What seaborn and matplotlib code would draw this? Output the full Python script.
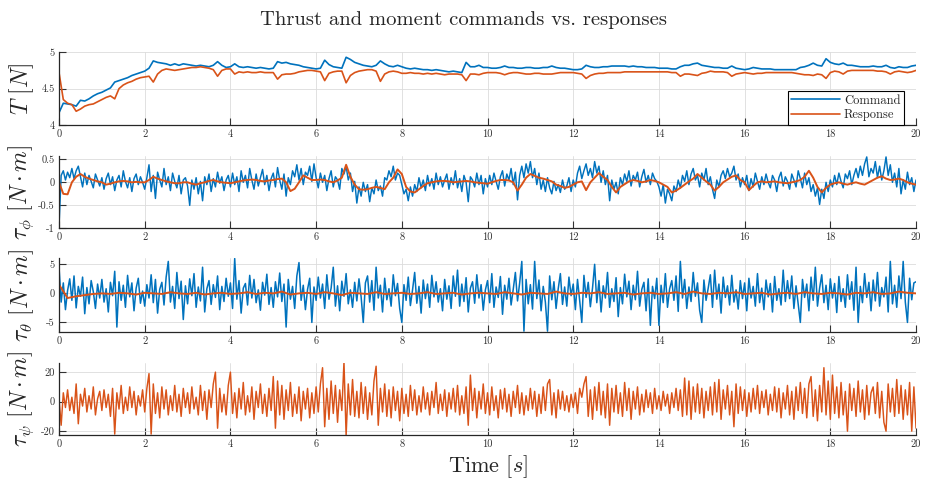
import numpy as np
import pandas as pd
import matplotlib
matplotlib.use("Agg")
import matplotlib.pyplot as plt
import seaborn as sns

# ---------------- data ----------------
title = "Thrust and moment commands vs. responses"
x_label = "Time $[s]$"
y_labels = [r"$T\ [N]$", r"$\tau_\phi\ [N\cdot m]$",
            r"$\tau_\theta\ [N\cdot m]$", r"$\tau_\psi\ [N\cdot m]$"]
series_names = ["Command", "Response"]
x_ticks = [0, 2, 4, 6, 8, 10, 12, 14, 16, 18, 20]
y_ticks = [[4, 4.5, 5], [-1, -0.5, 0, 0.5], [-5, 0, 5], [-20, 0, 20]]
y_tick_labels = [["4", "4.5", "5"], ["-1", "-0.5", "0", "0.5"],
                 ["-5", "0", "5"], ["-20", "0", "20"]]

# Thrust command / response, sampled every 0.1 s
thrust_cmd = [
    4.17, 4.30, 4.29, 4.28, 4.26, 4.34, 4.33, 4.36, 4.40, 4.43,
    4.45, 4.48, 4.51, 4.59, 4.61, 4.63, 4.65, 4.68, 4.70, 4.72,
    4.74, 4.78, 4.88, 4.86, 4.85, 4.84, 4.82, 4.84, 4.82, 4.84,
    4.83, 4.82, 4.81, 4.82, 4.81, 4.80, 4.82, 4.87, 4.82, 4.79,
    4.80, 4.84, 4.80, 4.79, 4.80, 4.79, 4.78, 4.79, 4.78, 4.77,
    4.78, 4.87, 4.85, 4.86, 4.84, 4.83, 4.82, 4.80, 4.79, 4.78,
    4.77, 4.78, 4.89, 4.83, 4.80, 4.79, 4.78, 4.93, 4.90, 4.86,
    4.84, 4.82, 4.81, 4.80, 4.82, 4.88, 4.84, 4.81, 4.80, 4.82,
    4.80, 4.78, 4.77, 4.78, 4.77, 4.76, 4.76, 4.75, 4.76, 4.75,
    4.74, 4.73, 4.74, 4.73, 4.72, 4.86, 4.80, 4.80, 4.82, 4.79,
    4.79, 4.78, 4.78, 4.79, 4.81, 4.79, 4.79, 4.78, 4.78, 4.79,
    4.79, 4.78, 4.78, 4.79, 4.79, 4.81, 4.79, 4.78, 4.78, 4.77,
    4.76, 4.76, 4.77, 4.82, 4.80, 4.79, 4.79, 4.80, 4.80, 4.81,
    4.81, 4.81, 4.81, 4.80, 4.81, 4.80, 4.80, 4.79, 4.79, 4.79,
    4.78, 4.78, 4.78, 4.77, 4.77, 4.80, 4.82, 4.82, 4.84, 4.85,
    4.82, 4.81, 4.80, 4.79, 4.79, 4.78, 4.78, 4.81, 4.78, 4.77,
    4.76, 4.77, 4.79, 4.78, 4.77, 4.77, 4.77, 4.76, 4.76, 4.76,
    4.76, 4.76, 4.76, 4.79, 4.80, 4.82, 4.85, 4.82, 4.81, 4.91,
    4.86, 4.84, 4.83, 4.85, 4.82, 4.82, 4.81, 4.80, 4.80, 4.80,
    4.81, 4.80, 4.80, 4.82, 4.79, 4.78, 4.80, 4.79, 4.79, 4.81,
    4.82]
thrust_resp = [
    4.72, 4.35, 4.30, 4.28, 4.19, 4.22, 4.26, 4.28, 4.29, 4.32,
    4.35, 4.38, 4.40, 4.36, 4.50, 4.55, 4.58, 4.60, 4.63, 4.65,
    4.66, 4.67, 4.59, 4.70, 4.75, 4.77, 4.76, 4.75, 4.76, 4.77,
    4.78, 4.79, 4.79, 4.80, 4.79, 4.78, 4.76, 4.67, 4.75, 4.77,
    4.77, 4.70, 4.73, 4.72, 4.73, 4.72, 4.72, 4.73, 4.72, 4.72,
    4.72, 4.63, 4.69, 4.70, 4.70, 4.71, 4.73, 4.74, 4.75, 4.75,
    4.74, 4.73, 4.61, 4.71, 4.73, 4.74, 4.74, 4.58, 4.68, 4.72,
    4.74, 4.75, 4.76, 4.76, 4.74, 4.60, 4.70, 4.73, 4.74, 4.73,
    4.71, 4.71, 4.72, 4.71, 4.71, 4.70, 4.71, 4.70, 4.71, 4.70,
    4.69, 4.70, 4.70, 4.70, 4.69, 4.61, 4.70, 4.70, 4.69, 4.71,
    4.72, 4.72, 4.72, 4.71, 4.69, 4.71, 4.72, 4.72, 4.71, 4.70,
    4.70, 4.71, 4.71, 4.70, 4.70, 4.70, 4.71, 4.72, 4.72, 4.72,
    4.72, 4.71, 4.70, 4.64, 4.68, 4.70, 4.71, 4.71, 4.72, 4.72,
    4.72, 4.72, 4.73, 4.73, 4.73, 4.73, 4.73, 4.73, 4.73, 4.73,
    4.73, 4.73, 4.73, 4.72, 4.72, 4.67, 4.70, 4.70, 4.69, 4.68,
    4.71, 4.72, 4.74, 4.73, 4.73, 4.73, 4.72, 4.67, 4.70, 4.71,
    4.72, 4.71, 4.70, 4.71, 4.71, 4.72, 4.72, 4.72, 4.72, 4.72,
    4.72, 4.72, 4.71, 4.70, 4.69, 4.69, 4.68, 4.70, 4.69, 4.64,
    4.72, 4.74, 4.73, 4.70, 4.74, 4.75, 4.75, 4.75, 4.75, 4.75,
    4.75, 4.74, 4.74, 4.73, 4.70, 4.73, 4.74, 4.73, 4.72, 4.73,
    4.75]

# Roll moment command (every 0.05 s) and response (every 0.1 s)
tau_phi_cmd = [
    -0.95, 0.15, 0.25, 0.05, 0.22, 0.10, 0.30, 0.08, 0.25, 0.35, 0.12, -0.10, 0.20, -0.05, 0.15, 0.02, -0.12, 0.18, 0.05, -0.08,
    0.10, -0.15, 0.08, 0.20, -0.05, 0.12, -0.18, 0.05, 0.15, -0.10, 0.25, 0.02, -0.12, 0.10, -0.20, 0.08, 0.18, -0.05, 0.12, 0.00,
    -0.15, 0.10, 0.38, -0.20, 0.15, -0.35, 0.22, 0.05, -0.10, 0.30, -0.05, 0.12, -0.18, 0.20, 0.02, -0.12, 0.15, -0.25, 0.05, 0.10,
    -0.08, -0.50, 0.05, -0.15, 0.10, -0.25, 0.02, -0.40, 0.12, -0.05, 0.18, -0.20, 0.08, -0.10, 0.22, -0.02, 0.12, -0.18, 0.05, 0.15,
    -0.10, 0.20, -0.05, 0.12, -0.20, 0.25, 0.00, 0.15, -0.12, 0.30, 0.05, -0.15, 0.18, -0.08, 0.10, 0.28, -0.05, 0.15, -0.18, 0.08,
    0.20, -0.10, 0.32, 0.05, -0.15, 0.18, -0.30, 0.10, -0.05, 0.25, 0.12, 0.38, 0.05, 0.30, -0.05, 0.22, 0.15, 0.35, 0.02, 0.40,
    0.10, -0.12, 0.20, 0.00, 0.15, -0.18, 0.08, 0.25, -0.10, 0.12, 0.05, -0.15, 0.30, 0.18, 0.35, 0.05, 0.20, -0.20, 0.02, -0.45,
    -0.10, -0.30, 0.00, -0.20, -0.05, -0.42, -0.12, -0.25, 0.05, -0.18, -0.08, -0.30, 0.10, 0.05, 0.25, 0.12, 0.35, 0.05, 0.20, 0.15,
    -0.05, -0.25, -0.15, -0.40, -0.10, -0.30, -0.05, -0.20, 0.10, -0.12, 0.05, -0.18, 0.15, -0.08, 0.08, -0.15, 0.20, -0.05, 0.12, -0.10,
    0.05, 0.18, -0.15, 0.10, -0.05, 0.25, -0.12, 0.08, -0.20, 0.15, 0.00, -0.42, 0.12, 0.05, -0.10, 0.20, -0.05, 0.15, -0.25, 0.08,
    -0.10, 0.15, -0.05, 0.20, 0.02, -0.15, 0.12, 0.25, -0.08, 0.18, 0.05, 0.30, -0.05, 0.22, -0.38, 0.15, 0.35, 0.10, 0.40, 0.20,
    0.45, 0.10, 0.30, -0.05, 0.20, -0.15, 0.05, -0.20, 0.10, -0.12, -0.25, 0.02, -0.18, -0.05, -0.22, 0.05, -0.15, -0.08, 0.10, -0.20,
    0.05, -0.10, 0.20, 0.35, 0.08, 0.25, 0.40, 0.15, 0.30, 0.10, 0.45, 0.20, 0.35, 0.00, 0.25, -0.05, 0.15, -0.40, 0.05, -0.15,
    0.00, -0.25, 0.10, -0.05, 0.18, 0.02, 0.25, -0.08, 0.15, 0.05, 0.22, -0.10, 0.12, 0.28, 0.00, 0.15, -0.05, 0.20, 0.08, 0.02,
    -0.10, -0.30, -0.05, -0.45, -0.15, -0.25, -0.40, -0.08, -0.20, 0.05, -0.12, 0.15, 0.02, 0.25, -0.05, 0.18, 0.30, 0.05, 0.15, -0.10,
    0.20, 0.05, 0.30, -0.05, 0.12, -0.15, -0.35, 0.05, -0.10, 0.15, 0.25, 0.08, 0.30, 0.12, 0.20, 0.35, 0.05, 0.18, -0.10, 0.10,
    -0.05, 0.15, -0.18, 0.08, -0.10, 0.20, 0.02, -0.15, 0.12, -0.05, 0.18, 0.00, -0.12, 0.15, 0.05, -0.20, 0.10, 0.22, -0.08, 0.12,
    0.02, -0.15, 0.18, 0.05, -0.10, 0.25, 0.08, -0.12, 0.20, -0.05, 0.10, -0.20, -0.05, -0.30, -0.12, -0.48, -0.15, -0.35, 0.00, -0.20,
    0.05, -0.10, 0.15, -0.05, 0.20, 0.02, -0.12, 0.18, 0.08, 0.25, -0.05, 0.15, 0.30, 0.10, 0.35, 0.15, 0.40, 0.55, 0.12, 0.30,
    0.20, 0.45, 0.10, 0.35, 0.05, 0.25, 0.55, 0.15, 0.38, 0.00, 0.20, -0.10, 0.30, -0.25, 0.05, -0.15, 0.22, -0.05, 0.10, -0.20,
    0.05]
tau_phi_resp = [
    0.00, -0.25, -0.26, 0.00, 0.12, 0.18, 0.12, 0.08, 0.05, 0.02,
    0.00, -0.05, -0.03, 0.00, 0.02, 0.03, 0.02, 0.00, 0.01, 0.00,
    0.00, 0.05, 0.12, 0.08, 0.05, 0.02, 0.00, -0.02, -0.02, 0.00,
    0.00, -0.03, -0.05, -0.02, 0.00, 0.03, 0.05, 0.02, 0.00, -0.01,
    -0.02, 0.00, 0.02, 0.04, 0.05, 0.06, 0.05, 0.03, 0.02, 0.04,
    0.05, 0.07, 0.08, 0.00, -0.19, -0.14, 0.00, 0.15, 0.10, 0.05,
    0.05, 0.06, 0.05, 0.02, 0.00, 0.04, 0.10, 0.38, 0.12, -0.05,
    -0.15, -0.16, -0.15, -0.12, -0.10, -0.12, -0.15, 0.00, 0.10, 0.28,
    0.18, -0.10, -0.20, -0.22, -0.15, -0.08, -0.02, 0.00, 0.02, 0.03,
    0.03, 0.02, 0.00, 0.01, 0.02, 0.03, 0.02, 0.00, -0.01, -0.02,
    -0.03, 0.00, 0.03, 0.05, 0.05, 0.04, 0.00, -0.18, -0.05, 0.10,
    0.18, 0.14, 0.10, 0.08, 0.05, 0.02, -0.05, -0.08, -0.12, -0.10,
    -0.05, 0.00, 0.02, -0.17, 0.00, 0.10, 0.20, 0.12, 0.05, -0.10,
    -0.22, -0.10, -0.04, 0.02, 0.05, 0.03, 0.00, 0.02, 0.05, 0.03,
    0.00, -0.05, -0.10, -0.22, -0.18, -0.12, -0.05, 0.02, 0.08, 0.18,
    0.10, 0.02, -0.05, -0.18, -0.10, 0.00, 0.06, 0.12, 0.15, 0.05,
    0.00, -0.17, -0.08, 0.00, 0.02, 0.00, 0.01, 0.02, 0.00, -0.01,
    -0.02, 0.00, 0.02, 0.05, 0.12, 0.25, 0.10, -0.10, -0.22, -0.12,
    -0.05, -0.02, 0.00, -0.03, -0.05, -0.02, 0.00, -0.03, -0.05, 0.00,
    0.05, 0.10, 0.13, 0.08, 0.05, 0.06, 0.08, 0.05, 0.00, -0.03,
    -0.05]

# Pitch moment command (every 0.05 s) and response (every 0.2 s)
tau_theta_cmd = [
    4.50, -1.50, 1.80, -2.80, 0.50, 2.50, -1.20, 3.00, -2.50, 1.20, -0.50, 2.80, -3.50, 1.00, -1.80, 2.20, 0.30, -2.60, 1.60, -0.80,
    2.40, -1.50, 0.80, -3.20, 1.90, -0.40, 3.80, -5.80, 2.00, -1.20, 1.40, -2.40, 3.10, -0.60, 1.80, -3.00, 0.90, 2.60, -1.70, 0.40,
    -2.20, 1.50, -0.80, 3.20, -1.60, 2.40, -3.40, 0.70, 1.90, -2.00, 2.80, 5.50, -1.50, 1.20, -2.60, 3.60, -0.90, 2.10, -4.50, 1.30,
    -1.80, 2.50, -0.40, 3.40, -2.40, 1.10, -1.30, 4.50, -3.20, 0.80, 2.20, -1.90, 1.50, -0.70, 3.00, -2.80, 1.20, -1.40, 2.60, -0.50,
    1.80, -2.60, 6.00, -1.00, 2.20, -3.40, 0.90, 1.70, -2.00, 3.10, -0.80, 2.40, -1.60, 0.60, -2.90, 1.90, -0.30, 3.30, -1.90, 1.00,
    -2.40, 2.00, -0.60, 3.50, -1.40, 1.60, -5.80, 2.40, -1.00, 1.20, -2.60, 3.00, 5.30, -1.20, 1.40, -2.80, 0.70, 2.60, -5.00, 1.10,
    -1.20, 2.80, -0.80, 1.60, -2.60, 3.20, -1.00, 0.90, 4.50, -2.20, 1.30, -3.00, 2.10, -0.50, 3.40, -1.80, 0.60, -2.40, 1.90, -1.30,
    2.50, -0.60, -5.00, 1.80, 3.00, -1.50, 2.20, -2.90, 4.50, -0.80, 1.40, -3.20, 2.60, -1.10, 0.80, -2.20, 3.20, -0.40, 1.70, -2.60,
    -5.00, 1.50, -1.20, 2.80, -2.10, 0.60, 3.60, -1.70, 1.20, -3.40, 2.30, -0.90, 1.60, -2.40, 3.10, -0.60, 2.00, -1.50, 0.80, -3.00,
    2.40, -1.00, 1.30, -2.60, 3.00, -0.50, 4.00, -2.20, 1.60, -1.40, 2.70, -3.20, 0.90, 2.00, -1.70, 3.20, -0.80, 1.50, -2.90, 0.60,
    2.20, -1.60, 3.40, -2.40, 1.10, -0.70, 2.90, -3.60, 1.40, -1.00, 2.60, -2.00, 0.70, 3.60, -1.30, 1.80, 5.50, -6.50, 2.40, -1.80,
    1.50, -2.70, 5.50, -0.90, 2.30, -3.00, 1.20, -1.50, -6.50, 3.00, -1.10, 2.00, -2.60, 0.80, 3.40, -1.90, 1.10, -2.20, 2.80, -0.40,
    1.60, -2.80, 2.40, -1.20, -5.00, 3.10, -0.70, 1.90, -2.30, 0.90, 5.00, -1.60, 2.20, -3.20, 1.30, -0.80, 3.60, -2.40, 0.80, -1.40,
    2.70, -4.00, 1.00, -1.80, 3.30, -0.60, 2.10, -2.80, 1.40, -1.10, 3.80, -2.20, 0.70, 1.90, -3.00, 2.50, -5.50, 1.20, -0.90, 2.60,
    -5.50, 1.40, -1.60, 3.40, -2.40, 0.80, 2.20, -1.20, 3.00, -3.10, 5.50, -0.80, 2.40, -2.60, 1.10, -1.40, 3.60, -0.50, 1.80, -2.90,
    -5.00, 2.30, -1.20, 0.90, 3.20, -2.40, 4.00, -1.00, 1.60, -3.40, 2.80, -0.70, 1.30, -2.00, 3.10, -1.50, 0.60, -2.70, 2.20, -0.90,
    1.80, -3.00, 2.60, -0.80, 1.20, -2.20, 3.40, -1.60, 0.90, -2.80, 2.30, -0.60, 1.70, -3.20, 2.90, -1.20, 0.80, -2.00, 4.00, -1.40,
    2.20, -0.90, 3.00, -2.60, 1.30, -1.80, -5.00, 2.40, -0.70, 1.60, -3.00, 2.80, -1.20, 4.50, -2.20, 0.90, 3.20, -1.60, 1.40, -2.80,
    2.50, -0.80, 1.70, -3.30, 2.90, -1.40, 0.80, -2.40, 3.20, -1.00, 2.00, -2.90, 4.50, -5.00, 1.20, -1.60, 3.40, -0.70, 1.90, -3.00,
    2.30, -1.30, 3.60, -2.20, 1.00, -0.60, 2.80, -3.20, 5.50, -1.80, 1.40, -2.40, 3.00, -0.90, 5.50, -1.50, -5.00, 2.60, -1.10, 1.80,
    2.00]
tau_theta_resp = [
    1.5, -0.8, -0.5, -0.3, -0.1, 0.0, -0.1, 0.1, 0.0, -0.2,
    0.1, 0.0, -0.1, 0.2, 0.0, -0.1, 0.1, -0.2, 0.0, 0.1,
    -0.1, 0.0, 0.2, -0.1, 0.1, 0.0, 0.3, -0.2, 0.0, 0.1,
    -0.1, 0.2, 0.0, -0.3, 0.1, 0.0, -0.1, 0.2, -0.1, 0.0,
    0.1, -0.1, 0.0, 0.2, -0.1, 0.0, 0.1, -0.2, 0.0, 0.1,
    0.0, -0.1, 0.2, 0.0, -0.2, 0.1, 0.0, -0.1, 0.3, 0.0,
    -0.1, 0.1, 0.0, 0.2, -0.1, 0.0, 0.1, -0.2, 0.0, 0.1,
    -0.1, 0.0, 0.2, -0.1, 0.3, 0.0, -0.1, 0.1, 0.0, 0.2,
    -0.1, 0.0, 0.1, -0.2, 0.0, 0.1, -0.1, 0.2, 0.0, -0.1,
    0.1, 0.0, -0.2, 0.1, 0.0, 0.2, -0.1, 0.0, 0.3, 0.1,
    0.0]

# Yaw moment response (every 0.05 s)
tau_psi_resp = [
    2.0, -16.0, 6.0, -4.0, 8.0, -6.0, 3.0, -8.0, 12.0, -15.0, 5.0, -3.0, 9.0, -7.0, 4.0, -5.0, 10.0, -9.0, 2.0, 7.0,
    -6.0, 8.0, -4.0, 5.0, -10.0, 9.0, -22.0, 6.0, -5.0, 11.0, -8.0, 3.0, -6.0, 10.0, -4.0, 7.0, -9.0, 4.0, -3.0, 8.0,
    -7.0, 9.0, 19.0, -22.0, 12.0, -8.0, 6.0, -11.0, 10.0, -5.0, 8.0, -9.0, 4.0, -6.0, 11.0, -7.0, 5.0, -10.0, 9.0, -4.0,
    6.0, -8.0, 10.0, -5.0, 3.0, -9.0, 11.0, -6.0, 7.0, -12.0, 8.0, -4.0, 12.0, 20.0, -18.0, 9.0, -7.0, 5.0, -9.0, 11.0,
    20.0, -8.0, 6.0, -11.0, 9.0, -5.0, 13.0, -9.0, 4.0, -7.0, 10.0, -12.0, 7.0, -4.0, 12.0, -8.0, 5.0, -10.0, 9.0, -6.0,
    17.0, -18.0, 14.0, -9.0, 11.0, -12.0, 8.0, -6.0, 13.0, -10.0, 5.0, -8.0, 10.0, -13.0, 7.0, -5.0, 9.0, -11.0, 6.0, -8.0,
    10.0, -7.0, 12.0, 23.0, -17.0, 9.0, -12.0, 14.0, -8.0, 11.0, -14.0, 8.0, -6.0, 27.0, -23.0, 12.0, -9.0, 15.0, -10.0, 7.0,
    -11.0, 13.0, -8.0, 10.0, -12.0, 6.0, -9.0, 14.0, 24.0, -16.0, 9.0, -7.0, 12.0, -10.0, 8.0, -11.0, 10.0, -6.0, 7.0, -13.0,
    9.0, -8.0, 5.0, -10.0, 11.0, -6.0, 8.0, -9.0, 4.0, -7.0, 10.0, -5.0, 6.0, -9.0, 7.0, -4.0, 13.0, -8.0, 5.0, -6.0,
    8.0, -10.0, 6.0, -5.0, 9.0, -7.0, 11.0, -9.0, 4.0, -8.0, 10.0, -16.0, 18.0, -6.0, 9.0, -11.0, 7.0, -5.0, 12.0, -8.0,
    6.0, -9.0, 10.0, -6.0, 4.0, -11.0, 8.0, -5.0, 9.0, -7.0, 5.0, -10.0, 7.0, -4.0, 11.0, -8.0, 6.0, -9.0, 4.0, -6.0,
    9.0, -5.0, 7.0, -10.0, 5.0, -8.0, 10.0, -6.0, 12.0, 15.0, -9.0, 6.0, -11.0, 8.0, -5.0, 7.0, -6.0, 4.0, -7.0, 5.0,
    -4.0, 6.0, -8.0, 9.0, 3.0, 12.0, 17.0, -10.0, 8.0, -12.0, 10.0, -6.0, 13.0, -9.0, 7.0, -11.0, 12.0, -16.0, 9.0, -7.0,
    11.0, -8.0, 6.0, -10.0, 13.0, -6.0, 9.0, -12.0, 7.0, -5.0, 10.0, -9.0, 5.0, -7.0, 8.0, -4.0, 6.0, -8.0, 9.0, -5.0,
    4.0, -6.0, 7.0, -3.0, 5.0, -8.0, 6.0, -4.0, 9.0, -6.0, 8.0, -10.0, 16.0, -9.0, 14.0, -12.0, 10.0, -7.0, 12.0, -8.0,
    9.0, -11.0, 7.0, -6.0, 10.0, -9.0, 13.0, -7.0, 15.0, -12.0, 8.0, -5.0, 11.0, -9.0, 7.0, -17.0, 12.0, -8.0, 10.0, -6.0,
    8.0, -10.0, 6.0, -7.0, 9.0, -5.0, 11.0, -8.0, 7.0, -4.0, 8.0, -9.0, 5.0, -6.0, 10.0, -7.0, 9.0, -11.0, 6.0, -5.0,
    11.0, -9.0, 7.0, -12.0, 10.0, -6.0, 13.0, -8.0, 9.0, -11.0, 12.0, 17.0, -10.0, 8.0, -13.0, 11.0, -7.0, 23.0, -9.0, 14.0,
    -12.0, 18.0, -8.0, 10.0, -11.0, 13.0, -9.0, 7.0, -20.0, 12.0, -6.0, 9.0, -10.0, 14.0, -7.0, 8.0, -12.0, 11.0, -9.0, 6.0,
    10.0, -8.0, 13.0, -11.0, 7.0, -14.0, -20.0, 12.0, -7.0, 9.0, -10.0, 15.0, -8.0, 11.0, -12.0, 8.0, -9.0, 13.0, -20.0, 10.0,
    -18.0]

# ---------------- styling ----------------
BLUE = "#0072BD"
ORANGE = "#D95319"

sns.set_theme(style="white")
plt.rcParams["font.family"] = ["cmr10", "DejaVu Serif"]
plt.rcParams["mathtext.fontset"] = "cm"
plt.rcParams["axes.unicode_minus"] = False
plt.rcParams["axes.formatter.use_mathtext"] = True


def frame(values):
    t = np.linspace(0, 20, len(values))
    return pd.DataFrame({"t": t, "v": values})


fig = plt.figure(figsize=(9.28, 4.83), dpi=100)
L, W = 0.0636, 0.9235
positions = [(0.741, 0.151), (0.527, 0.150), (0.312, 0.154), (0.0994, 0.150)]
ylims = [(4, 5), (-1, 0.57), (-6.7, 6.1), (-22.6, 26.5)]
axes = [fig.add_axes([L, b, W, h]) for b, h in positions]

# Panel 1: thrust
ax = axes[0]
sns.lineplot(data=frame(thrust_cmd), x="t", y="v", ax=ax, color=BLUE,
             linewidth=1.2, estimator=None, label=series_names[0])
sns.lineplot(data=frame(thrust_resp), x="t", y="v", ax=ax, color=ORANGE,
             linewidth=1.2, estimator=None, label=series_names[1])
leg = ax.legend(loc="lower right", bbox_to_anchor=(0.986, 0.0), fontsize=9,
                frameon=True, fancybox=False, framealpha=1, edgecolor="black",
                handlelength=3.9, borderpad=0.3, labelspacing=0.2,
                handletextpad=0.3, borderaxespad=0.0)
leg.get_frame().set_linewidth(0.8)

# Panel 2: roll moment
ax = axes[1]
sns.lineplot(data=frame(tau_phi_cmd), x="t", y="v", ax=ax, color=BLUE,
             linewidth=1.05, estimator=None)
sns.lineplot(data=frame(tau_phi_resp), x="t", y="v", ax=ax, color=ORANGE,
             linewidth=1.4, estimator=None)

# Panel 3: pitch moment
ax = axes[2]
sns.lineplot(data=frame(tau_theta_cmd), x="t", y="v", ax=ax, color=BLUE,
             linewidth=1.1, estimator=None)
sns.lineplot(data=frame(tau_theta_resp), x="t", y="v", ax=ax, color=ORANGE,
             linewidth=1.4, estimator=None)

# Panel 4: yaw moment
ax = axes[3]
sns.lineplot(data=frame(tau_psi_resp), x="t", y="v", ax=ax, color=ORANGE,
             linewidth=1.05, estimator=None)

for i, ax in enumerate(axes):
    ax.set_xlim(0, 20)
    ax.set_ylim(*ylims[i])
    ax.set_xticks(x_ticks)
    ax.set_xticklabels([str(v) for v in x_ticks])
    ax.set_yticks(y_ticks[i])
    ax.set_yticklabels(y_tick_labels[i])
    ax.grid(True, color="#dcdcdc", linewidth=0.6)
    ax.set_axisbelow(True)
    for s in ["top", "right"]:
        ax.spines[s].set_visible(False)
    for s in ["left", "bottom"]:
        ax.spines[s].set_color("#262626")
        ax.spines[s].set_linewidth(0.9)
    ax.tick_params(axis="both", direction="in", length=5, width=0.8,
                   labelsize=7.5, colors="#333333", pad=3,
                   left=True, bottom=True)
    ax.set_xlabel("")
    ax.set_ylabel(y_labels[i], fontsize=17)
    ax.yaxis.set_label_coords(-0.027, 0.5)

axes[3].set_xlabel(x_label, fontsize=16, labelpad=3)
fig.suptitle(title, fontsize=14.8, y=0.978)

fig.savefig("out.png", dpi=100)
